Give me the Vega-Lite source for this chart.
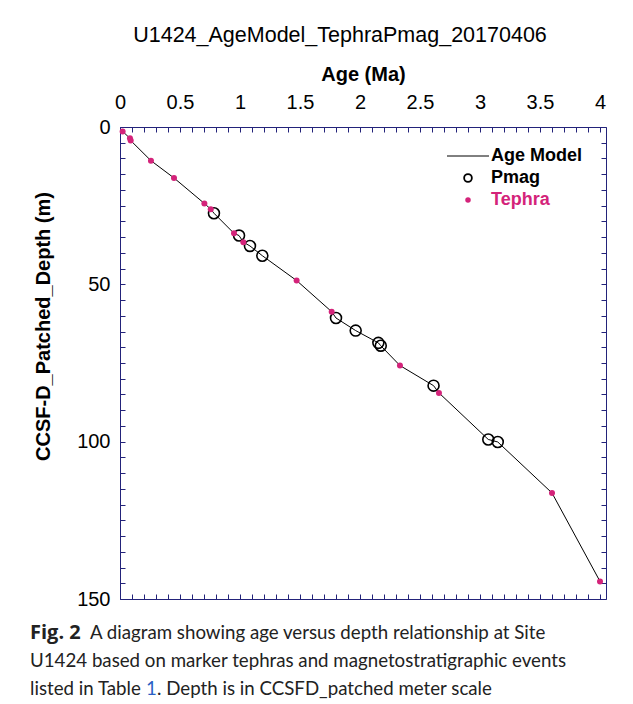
{
  "$schema": "https://vega.github.io/schema/vega-lite/v6.json",
  "padding": {"top": 24, "left": 30, "right": 0, "bottom": 0},
  "background": "white",
  "config": {"view": {"stroke": null}, "font": "Liberation Sans"},
  "spacing": 10,
  "datasets": {
    "pts": [
      {"age": 0.022, "depth": 1.4, "type": "Tephra"},
      {"age": 0.083, "depth": 3.6, "type": "Tephra"},
      {"age": 0.089, "depth": 4.3, "type": "Tephra"},
      {"age": 0.258, "depth": 10.7, "type": "Tephra"},
      {"age": 0.45, "depth": 16.2, "type": "Tephra"},
      {"age": 0.703, "depth": 24.3, "type": "Tephra"},
      {"age": 0.756, "depth": 26.1, "type": "Tephra"},
      {"age": 0.783, "depth": 27.4, "type": "Pmag"},
      {"age": 0.95, "depth": 33.8, "type": "Tephra"},
      {"age": 0.992, "depth": 34.5, "type": "Pmag"},
      {"age": 1.028, "depth": 36.6, "type": "Tephra"},
      {"age": 1.083, "depth": 37.8, "type": "Pmag"},
      {"age": 1.186, "depth": 40.9, "type": "Pmag"},
      {"age": 1.472, "depth": 48.8, "type": "Tephra"},
      {"age": 1.764, "depth": 58.7, "type": "Tephra"},
      {"age": 1.8, "depth": 60.7, "type": "Pmag"},
      {"age": 1.964, "depth": 64.7, "type": "Pmag"},
      {"age": 2.153, "depth": 68.6, "type": "Pmag"},
      {"age": 2.173, "depth": 69.5, "type": "Pmag"},
      {"age": 2.333, "depth": 75.8, "type": "Tephra"},
      {"age": 2.613, "depth": 82.2, "type": "Pmag"},
      {"age": 2.658, "depth": 84.5, "type": "Tephra"},
      {"age": 3.069, "depth": 99.3, "type": "Pmag"},
      {"age": 3.148, "depth": 100.1, "type": "Pmag"},
      {"age": 3.6, "depth": 116.3, "type": "Tephra"},
      {"age": 4.0, "depth": 144.4, "type": "Tephra"}
    ],
    "caption": [
      {"line": 1, "part": "bold", "text": "Fig. 2"},
      {"line": 1, "part": "rest1", "text": "A diagram showing age versus depth relationship at Site"},
      {"line": 2, "part": "plain", "text": "U1424 based on marker tephras and magnetostratigraphic events"},
      {"line": 3, "part": "plain", "text": "listed in Table"},
      {"line": 3, "part": "link", "text": "1"},
      {"line": 3, "part": "rest3", "text": ". Depth is in CCSFD_patched meter scale"}
    ]
  },
  "vconcat": [
    {
      "width": 486,
      "height": 472,
      "title": {"text": "U1424_AgeModel_TephraPmag_20170406", "fontSize": 21.5, "fontWeight": "normal", "font": "Liberation Sans", "color": "black", "offset": 18, "dx": -23},
      "data": {"name": "pts"},
      "resolve": {"axis": {"x": "independent", "y": "independent"}},
      "layer": [
        {
          "mark": {"type": "line", "color": "black", "strokeWidth": 1},
          "encoding": {
            "x": {"field": "age", "type": "quantitative", "scale": {"domain": [0, 4.05], "nice": false, "zero": false},
              "axis": {"orient": "top", "title": "Age (Ma)", "titleFontSize": 20, "titleFontWeight": "bold", "titleColor": "black", "titlePadding": 8,
                "values": [0,0.1,0.2,0.3,0.4,0.5,0.6,0.7,0.8,0.9,1,1.1,1.2,1.3,1.4,1.5,1.6,1.7,1.8,1.9,2,2.1,2.2,2.3,2.4,2.5,2.6,2.7,2.8,2.9,3,3.1,3.2,3.3,3.4,3.5,3.6,3.7,3.8,3.9,4],
                "labelExpr": "round(datum.value*10) % 5 == 0 ? format(datum.value, '~g') : ''",
                "labelOverlap": false, "labelFlush": false, "labelFontSize": 20, "labelColor": "black", "labelPadding": 20,
                "tickSize": -5, "tickColor": "#23237a", "domainColor": "#23237a", "grid": false}},
            "y": {"field": "depth", "type": "quantitative", "scale": {"domain": [0, 150], "reverse": true, "nice": false},
              "axis": {"orient": "left", "title": "CCSF-D_Patched_Depth (m)", "titleFontSize": 20, "titleFontWeight": "bold", "titleColor": "black", "titlePadding": 23, "titleY": 199,
                "values": [0,5,10,15,20,25,30,35,40,45,50,55,60,65,70,75,80,85,90,95,100,105,110,115,120,125,130,135,140,145,150],
                "labelExpr": "datum.value % 50 == 0 ? datum.label : ''",
                "labelOverlap": false, "labelFlush": false, "labelFontSize": 20, "labelColor": "black", "labelPadding": 15,
                "tickSize": -5, "tickColor": "#23237a", "domainColor": "#23237a", "grid": false}},
            "order": {"field": "age", "type": "quantitative"}
          }
        },
        {
          "transform": [{"filter": "datum.type === 'Pmag'"}],
          "mark": {"type": "point", "filled": false, "stroke": "black", "strokeWidth": 1.6, "size": 120, "opacity": 1},
          "encoding": {
            "x": {"field": "age", "type": "quantitative",
              "axis": {"orient": "bottom", "title": null, "labels": false,
                "values": [0,0.1,0.2,0.3,0.4,0.5,0.6,0.7,0.8,0.9,1,1.1,1.2,1.3,1.4,1.5,1.6,1.7,1.8,1.9,2,2.1,2.2,2.3,2.4,2.5,2.6,2.7,2.8,2.9,3,3.1,3.2,3.3,3.4,3.5,3.6,3.7,3.8,3.9,4],
                "tickSize": -5, "tickColor": "#23237a", "domainColor": "#23237a", "grid": false}},
            "y": {"field": "depth", "type": "quantitative",
              "axis": {"orient": "right", "title": null, "labels": false,
                "values": [0,5,10,15,20,25,30,35,40,45,50,55,60,65,70,75,80,85,90,95,100,105,110,115,120,125,130,135,140,145,150],
                "tickSize": -5, "tickColor": "#23237a", "domainColor": "#23237a", "grid": false}},
            "shape": {"field": "type", "type": "nominal",
              "scale": {"domain": ["Age Model", "Pmag", "Tephra"], "range": ["M-1,0H1", "circle", "circle"]},
              "legend": {"title": null, "orient": "none", "legendX": 339, "legendY": 20,
                "symbolSize": 1764, "labelFontSize": 18, "labelFontWeight": "bold", "labelFont": "Liberation Sans", "labelOffset": 14, "rowPadding": 4,
                "encoding": {
                  "symbols": {
                    "fill": {"value": {"expr": "datum.value === 'Tephra' ? '#d4237a' : 'transparent'"}},
                    "stroke": {"value": {"expr": "datum.value === 'Tephra' ? 'transparent' : 'black'"}},
                    "strokeWidth": {"value": {"expr": "datum.value === 'Pmag' ? 1.8 : 1"}},
                    "size": {"value": {"expr": "datum.value === 'Age Model' ? 1764 : datum.value === 'Pmag' ? 60 : 30"}},
                    "opacity": {"value": 1}
                  },
                  "labels": {"fill": {"value": {"expr": "datum.value === 'Tephra' ? '#d4237a' : 'black'"}}}
                }}}
          }
        },
        {
          "transform": [{"filter": "datum.type === 'Tephra'"}],
          "mark": {"type": "point", "filled": true, "fill": "#d4237a", "size": 36, "opacity": 1, "strokeWidth": 0},
          "encoding": {
            "x": {"field": "age", "type": "quantitative", "axis": null},
            "y": {"field": "depth", "type": "quantitative", "axis": null},
            "shape": {"field": "type", "type": "nominal"}
          }
        }
      ]
    },
    {
      "width": 486,
      "height": 84,
      "data": {"name": "caption"},
      "encoding": {
        "y": {"field": "line", "type": "ordinal", "axis": null},
        "text": {"field": "text"}
      },
      "layer": [
        {"transform": [{"filter": "datum.part === 'bold'"}], "mark": {"type": "text", "align": "left", "baseline": "middle", "font": "Open Sans", "fontSize": 20, "fontWeight": "bold", "color": "#222222", "x": -90}},
        {"transform": [{"filter": "datum.part === 'rest1'"}], "mark": {"type": "text", "align": "left", "baseline": "middle", "font": "Lato", "fontSize": 18.7, "color": "#222222", "x": -90, "dx": 60}},
        {"transform": [{"filter": "datum.part === 'plain'"}], "mark": {"type": "text", "align": "left", "baseline": "middle", "font": "Lato", "fontSize": 18.7, "color": "#222222", "x": -90}},
        {"transform": [{"filter": "datum.part === 'link'"}], "mark": {"type": "text", "align": "left", "baseline": "middle", "font": "Lato", "fontSize": 18.7, "color": "#2a5fc4", "x": -90, "dx": 116}},
        {"transform": [{"filter": "datum.part === 'rest3'"}], "mark": {"type": "text", "align": "left", "baseline": "middle", "font": "Lato", "fontSize": 18.7, "color": "#222222", "x": -90, "dx": 127}}
      ]
    }
  ]
}
